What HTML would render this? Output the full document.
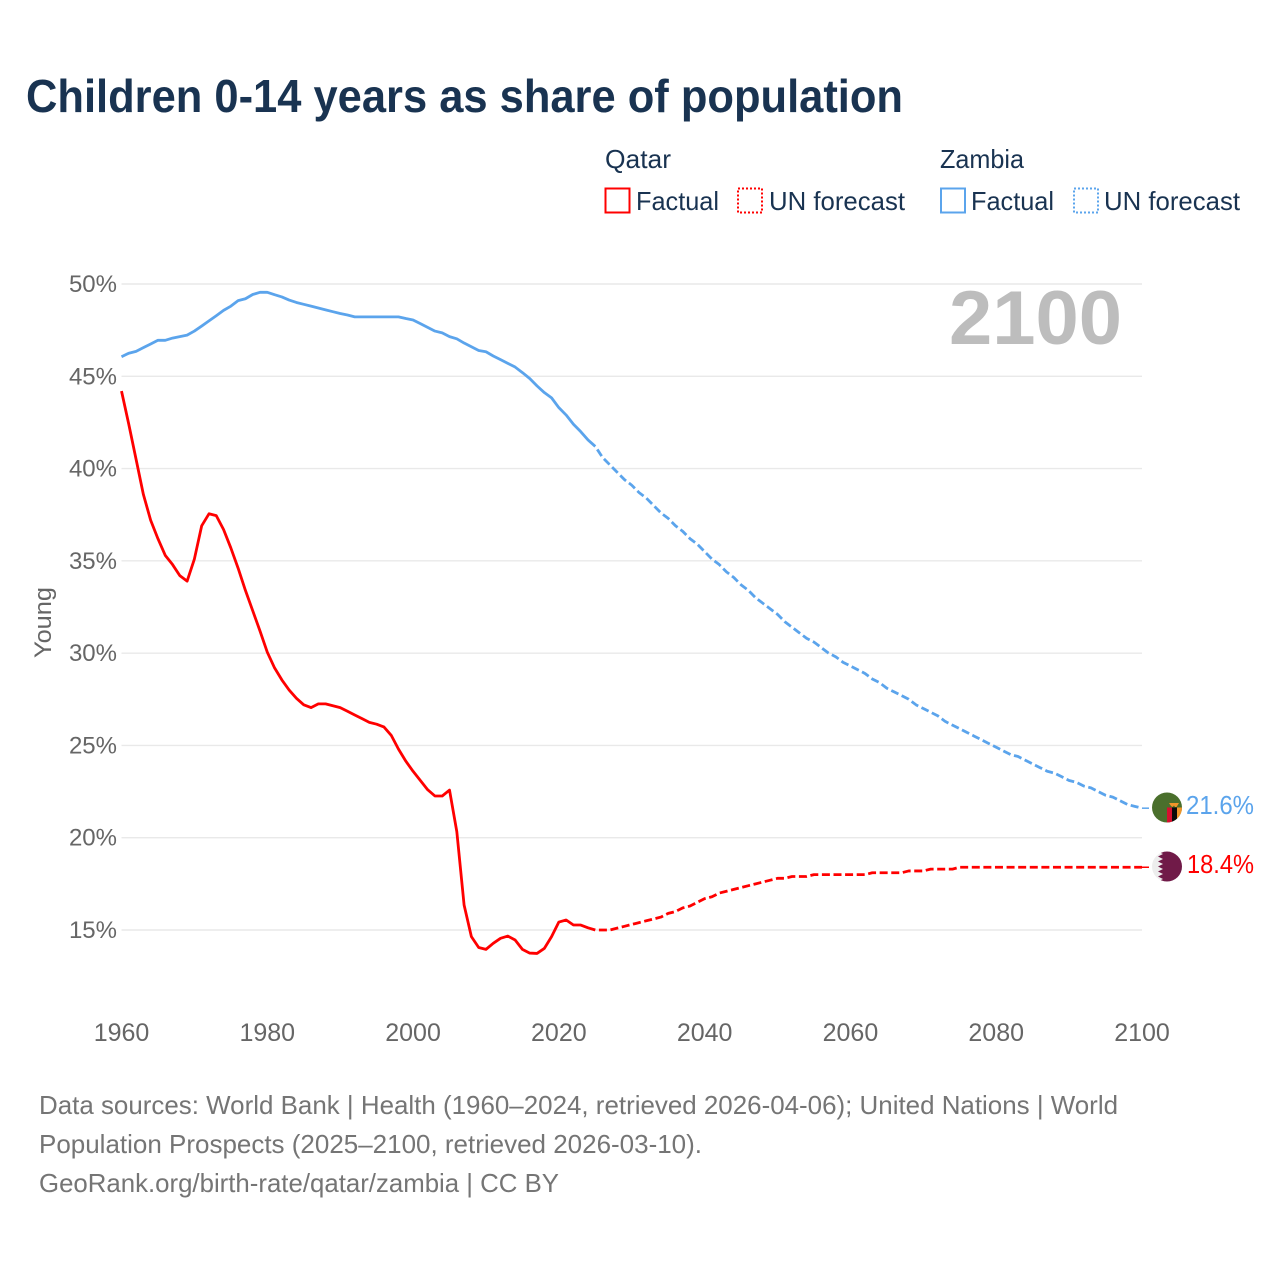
<!DOCTYPE html>
<html lang="en">
<head>
<meta charset="utf-8">
<title>Children 0-14 years as share of population</title>
<style>
html,body{margin:0;padding:0;background:#fff;}
svg{display:block;font-family:"Liberation Sans",sans-serif;}
</style>
</head>
<body>
<svg id="chart" xmlns="http://www.w3.org/2000/svg" width="1280" height="1280" viewBox="0 0 1280 1280">
  <rect x="0" y="0" width="1280" height="1280" fill="#ffffff"/>
  <text x="26" y="112" font-size="46" font-weight="700" fill="#193351" textLength="877" lengthAdjust="spacingAndGlyphs">Children 0-14 years as share of population</text>

  <g fill="#193351" font-size="26">
    <text x="605" y="168" textLength="66" lengthAdjust="spacingAndGlyphs">Qatar</text>
    <text x="940" y="168" textLength="84" lengthAdjust="spacingAndGlyphs">Zambia</text>
    <rect x="605.5" y="188.5" width="24" height="24" fill="none" stroke="#ff0000" stroke-width="2"/>
    <text x="636" y="210" textLength="83" lengthAdjust="spacingAndGlyphs">Factual</text>
    <rect x="738" y="188.5" width="24" height="24" fill="none" stroke="#ff0000" stroke-width="2" stroke-dasharray="2 2"/>
    <text x="769" y="210" textLength="136" lengthAdjust="spacingAndGlyphs">UN forecast</text>
    <rect x="941" y="188.5" width="24" height="24" fill="none" stroke="#5ba4ec" stroke-width="2"/>
    <text x="971" y="210" textLength="83" lengthAdjust="spacingAndGlyphs">Factual</text>
    <rect x="1074" y="188.5" width="24" height="24" fill="none" stroke="#5ba4ec" stroke-width="2" stroke-dasharray="2 2"/>
    <text x="1104" y="210" textLength="136" lengthAdjust="spacingAndGlyphs">UN forecast</text>
  </g>

  <g id="grid"></g>
  <g id="yticks" font-size="24" fill="#666666" text-anchor="end"></g>
  <g id="xticks" font-size="25" fill="#666666" text-anchor="middle"></g>

  <text transform="translate(51,658) rotate(-90)" font-size="24" fill="#666666" textLength="71" lengthAdjust="spacingAndGlyphs">Young</text>
  <text x="949" y="344" font-size="76" font-weight="700" fill="#bdbdbd" textLength="173" lengthAdjust="spacingAndGlyphs">2100</text>

  <g id="series"></g>

  <g id="flag-zambia">
    <clipPath id="clip-zambia"><circle cx="0" cy="0" r="15"/></clipPath>
    <g clip-path="url(#clip-zambia)">
      <rect x="-15" y="-15" width="30" height="30" fill="#4a6f2c"/>
      <rect x="0" y="0" width="5" height="16" fill="#d6102f"/>
      <rect x="5" y="0" width="5" height="16" fill="#0a0a0a"/>
      <rect x="10" y="0" width="6" height="16" fill="#f0952a"/>
      <path d="M2 -4.5 L12 -4.5 L9.5 -0.5 L8 -0.5 L7 -2 L5.5 -0.5 L4 -1.5 Z" fill="#f0952a"/>
    </g>
  </g>
  <g id="flag-qatar">
    <clipPath id="clip-qatar"><circle cx="0" cy="0" r="15"/></clipPath>
    <g clip-path="url(#clip-qatar)">
      <rect x="-15" y="-15" width="30" height="30" fill="#ededed"/>
      <path d="M-9 -15 L-4 -12.5 L-9 -10 L-4 -7.5 L-9 -5 L-4 -2.5 L-9 0 L-4 2.5 L-9 5 L-4 7.5 L-9 10 L-4 12.5 L-9 15 L15 15 L15 -15 Z" fill="#701a48"/>
    </g>
  </g>
  <text id="label-zambia" x="1186" font-size="26" fill="#5ba4ec" textLength="68" lengthAdjust="spacingAndGlyphs"></text>
  <text id="label-qatar" x="1187" font-size="26" fill="#ff0000" textLength="67" lengthAdjust="spacingAndGlyphs"></text>

  <g font-size="26" fill="#757575">
    <text x="39" y="1114" textLength="1079" lengthAdjust="spacingAndGlyphs">Data sources: World Bank | Health (1960–2024, retrieved 2026-04-06); United Nations | World</text>
    <text x="39" y="1153" textLength="663" lengthAdjust="spacingAndGlyphs">Population Prospects (2025–2100, retrieved 2026-03-10).</text>
    <text x="39" y="1192" textLength="520" lengthAdjust="spacingAndGlyphs">GeoRank.org/birth-rate/qatar/zambia | CC BY</text>
  </g>
</svg>

<script>
var factualStartYear = 1960;
var forecastStartYear = 2025;

var qatarFactual = [44.2,42.4,40.5,38.6,37.2,36.2,35.3,34.8,34.2,33.9,
  35.1,36.9,37.55,37.45,36.7,35.7,34.6,33.4,32.3,31.2,
  30.05,29.2,28.55,28.0,27.55,27.2,27.05,27.25,27.25,27.15,
  27.05,26.85,26.65,26.45,26.25,26.15,26.0,25.55,24.8,24.15,
  23.6,23.1,22.6,22.26,22.26,22.58,20.33,16.35,14.64,14.05,
  13.95,14.28,14.55,14.67,14.46,13.95,13.75,13.73,14.0,14.64,
  15.43,15.54,15.27,15.27,15.12,15.0];

var qatarForecast = [15.0,15.0,15.0,15.1,15.2,15.3,15.4,15.5,15.6,15.7,
  15.9,16.0,16.2,16.3,16.5,16.7,16.8,17.0,17.1,17.2,
  17.3,17.4,17.5,17.6,17.7,17.8,17.8,17.9,17.9,17.9,
  18.0,18.0,18.0,18.0,18.0,18.0,18.0,18.0,18.1,18.1,
  18.1,18.1,18.1,18.2,18.2,18.2,18.3,18.3,18.3,18.3,
  18.4,18.4,18.4,18.4,18.4,18.4,18.4,18.4,18.4,18.4,
  18.4,18.4,18.4,18.4,18.4,18.4,18.4,18.4,18.4,18.4,
  18.4,18.4,18.4,18.4,18.4,18.4];

var zambiaFactual = [46.06,46.25,46.35,46.55,46.75,46.95,46.95,47.07,47.15,47.23,
  47.45,47.72,48.0,48.28,48.57,48.8,49.1,49.2,49.43,49.55,
  49.55,49.42,49.3,49.13,49.0,48.9,48.8,48.7,48.6,48.5,
  48.4,48.32,48.22,48.22,48.22,48.22,48.22,48.22,48.22,48.13,
  48.05,47.85,47.65,47.45,47.35,47.15,47.03,46.8,46.6,46.4,
  46.33,46.1,45.9,45.7,45.5,45.2,44.88,44.48,44.12,43.83,
  43.3,42.9,42.4,42.0,41.55,41.2];

var zambiaForecast = [41.2,40.6,40.2,39.8,39.4,39.1,38.7,38.4,38.0,37.6,
  37.3,36.9,36.6,36.2,35.9,35.5,35.1,34.8,34.4,34.1,
  33.7,33.4,33.0,32.7,32.4,32.1,31.7,31.4,31.1,30.8,
  30.6,30.3,30.0,29.8,29.5,29.3,29.1,28.9,28.6,28.4,
  28.1,27.9,27.7,27.5,27.2,27.0,26.8,26.6,26.3,26.1,
  25.9,25.7,25.5,25.3,25.1,24.9,24.7,24.5,24.4,24.2,
  24.0,23.8,23.6,23.5,23.3,23.1,23.0,22.8,22.7,22.5,
  22.3,22.2,22.0,21.8,21.7,21.6];

var yTickValues = [15,20,25,30,35,40,45,50];
var xTickValues = [1960,1980,2000,2020,2040,2060,2080,2100];

var NS = 'http://www.w3.org/2000/svg';
var COLOR_QATAR = '#ff0000';
var COLOR_ZAMBIA = '#5ba4ec';

function xScale(year) { return 121.5 + (year - 1960) * (1142 - 121.5) / 140; }
function yScale(value) { return 930 + (value - 15) * (284 - 930) / 35; }

function linePath(values, startYear) {
  var d = '';
  for (var i = 0; i < values.length; i++) {
    d += (i ? 'L' : 'M') + xScale(startYear + i).toFixed(2) + ' ' + yScale(values[i]).toFixed(2);
  }
  return d;
}

var grid = document.getElementById('grid');
var yticks = document.getElementById('yticks');
var xticks = document.getElementById('xticks');
var series = document.getElementById('series');

yTickValues.forEach(function (v) {
  var line = document.createElementNS(NS, 'line');
  
  
  line.setAttribute('x1', xScale(1960));
  line.setAttribute('x2', xScale(2100));
  line.setAttribute('y1', yScale(v));
  line.setAttribute('y2', yScale(v));
  line.setAttribute('stroke', '#e9e9e9');
  line.setAttribute('stroke-width', '1.4');
  grid.appendChild(line);

  var label = document.createElementNS(NS, 'text');
  
  
  label.setAttribute('x', 117);
  label.setAttribute('y', yScale(v) + 8);
  label.textContent = v + '%';
  yticks.appendChild(label);
});

xTickValues.forEach(function (year) {
  var label = document.createElementNS(NS, 'text');
  
  
  label.setAttribute('x', xScale(year));
  label.setAttribute('y', 1041);
  label.textContent = year;
  xticks.appendChild(label);
});

function addLine(values, startYear, color, dashed, name) {
  var path = document.createElementNS(NS, 'path');
  
  
  path.setAttribute('d', linePath(values, startYear));
  path.setAttribute('fill', 'none');
  path.setAttribute('stroke', color);
  path.setAttribute('stroke-width', '2.8');
  path.setAttribute('stroke-linejoin', 'round');
  if (dashed) {
    path.setAttribute('stroke-dasharray', '8 3.6');
    path.setAttribute('stroke-dashoffset', '8');
  }
  series.appendChild(path);
}

function addConnector(values, color, name) {
  var y = yScale(values[values.length - 1]);
  var line = document.createElementNS(NS, 'line');
  
  
  line.setAttribute('x1', xScale(2100));
  line.setAttribute('x2', xScale(2100) + 7);
  line.setAttribute('y1', y);
  line.setAttribute('y2', y);
  line.setAttribute('stroke', color);
  line.setAttribute('stroke-width', '1.5');
  series.appendChild(line);
}

addLine(zambiaFactual, factualStartYear, COLOR_ZAMBIA, false, 'zambia-factual-line');
addLine(zambiaForecast, forecastStartYear, COLOR_ZAMBIA, true, 'zambia-forecast-line');
addConnector(zambiaForecast, COLOR_ZAMBIA, 'zambia-flag-connector');
addLine(qatarFactual, factualStartYear, COLOR_QATAR, false, 'qatar-factual-line');
addLine(qatarForecast, forecastStartYear, COLOR_QATAR, true, 'qatar-forecast-line');
addConnector(qatarForecast, COLOR_QATAR, 'qatar-flag-connector');

function placeEnd(values, flagId, labelId) {
  var last = values[values.length - 1];
  var y = yScale(last);
  document.getElementById(flagId).setAttribute('transform', 'translate(1167,' + (y - 0.7) + ')');
  var label = document.getElementById(labelId);
  label.setAttribute('y', y + 6);
  label.textContent = last.toFixed(1) + '%';
}
placeEnd(zambiaForecast, 'flag-zambia', 'label-zambia');
placeEnd(qatarForecast, 'flag-qatar', 'label-qatar');
</script>
</body>
</html>
